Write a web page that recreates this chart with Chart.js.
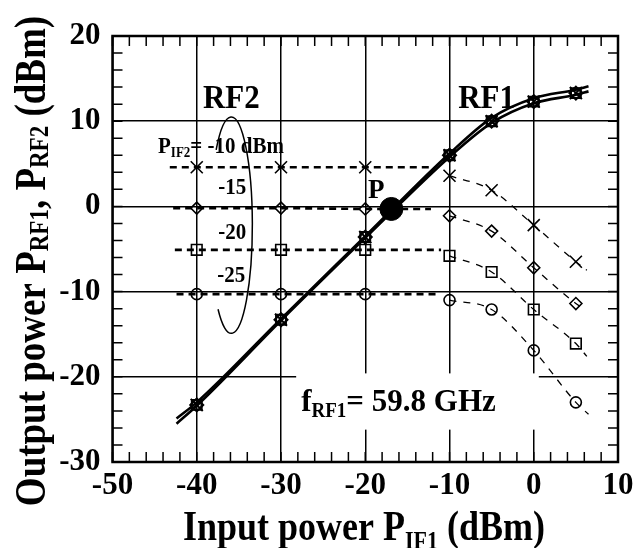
<!DOCTYPE html>
<html>
<head>
<meta charset="utf-8">
<script src="https://cdn.jsdelivr.net/npm/chart.js@4/dist/chart.umd.min.js"></script>
<style>
    body { margin: 0; background: #fff; }
</style>
</head>
<body>
<canvas id="chart" width="639" height="548"></canvas>
<script>
// measured IF1 input powers (dBm)
const inputPower = [-40, -30, -20, -10, -5, 0, 5];

// RF1 output, the two nearly overlapping traces
const rf1LineX = [-42.4, -40, -30, -20, -10, -5, 0, 5, 6.5];
const rf1Upper = [-24.9, -23.0, -13.2, -3.5, 6.2, 10.4, 12.7, 13.7, 14.1];
const rf1Lower = [-25.5, -23.4, -13.4, -3.7, 5.8, 9.8, 12.1, 13.1, 13.5];
const rf1Meas = [-23.3, -13.3, -3.6, 6.0, 10.0, 12.3, 13.3];

// RF2 output for each P_IF2 level
const pif2Levels = ['-10', '-15', '-20', '-25'];
const rf2M10 = [4.6, 4.6, 4.6, 3.6, 1.9, -2.2, -6.5];
const rf2M15 = [-0.2, -0.2, -0.3, -1.1, -2.9, -7.2, -11.4];
const rf2M20 = [-5.1, -5.1, -5.1, -5.8, -7.7, -12.1, -16.1];
const rf2M25 = [-10.3, -10.3, -10.3, -11.0, -12.1, -16.9, -23.0];
const flatStartX = [-43.2, -42.8, -42.6, -42.4];
const flatEndX = [-12.4, -12.2, -11.0, -11.2];
const tailEndX = [6.3, 5.9, 6.3, 6.5];
const tailEndY = [-7.5, -12.0, -17.6, -24.4];

// point P
const pointPx = [-16.9];
const pointPy = [-0.3];

const xTicks = [-50, -40, -30, -20, -10, 0, 10];
const yTicks = [20, 10, 0, -10, -20, -30];

const FONT = '"Liberation Serif", "Times New Roman", serif';
const rf2Series = [rf2M10, rf2M15, rf2M20, rf2M25];
const markerStyles = ['crossRot', 'rectRot', 'rect', 'circle'];
const markerSizes = [8.5, 6, 7.5, 5.5];

const pts = (xs, ys) => xs.map((x, i) => ({ x, y: ys[i] }));

const datasets = [];

// P marker
datasets.push({
    data: pts(pointPx, pointPy),
    pointRadius: 11.5,
    pointBackgroundColor: '#000',
    pointBorderColor: '#000',
    showLine: false,
});

// RF1 lines
[rf1Upper, rf1Lower].forEach((ys) => {
    datasets.push({
        data: pts(rf1LineX, ys),
        showLine: true,
        borderColor: '#000',
        borderWidth: 2.6,
        pointRadius: 0,
        cubicInterpolationMode: 'monotone',
    });
});
// RF1 markers (several symbols stacked)
[['crossRot', 8.5], ['rect', 7], ['rectRot', 6.5], ['circle', 5]].forEach((m) => {
    datasets.push({
        data: pts(inputPower, rf1Meas),
        showLine: false,
        pointStyle: m[0],
        pointRadius: m[1],
        pointBorderColor: '#000',
        pointBackgroundColor: 'rgba(0,0,0,0)',
        pointBorderWidth: 2,
    });
});

// RF2 curves
rf2Series.forEach((ys, k) => {
    // flat part, thick dash
    datasets.push({
        data: [{ x: flatStartX[k], y: ys[0] }].concat(pts(inputPower.slice(0, 3), ys.slice(0, 3)), [{ x: flatEndX[k], y: ys[2] }]),
        showLine: true,
        borderColor: '#000',
        borderWidth: 2.6,
        borderDash: [7, 5],
        pointRadius: 0,
    });
    // roll-off part, thin dash
    datasets.push({
        data: pts(inputPower.slice(3), ys.slice(3)).concat([{ x: tailEndX[k], y: tailEndY[k] }]),
        showLine: true,
        borderColor: '#000',
        borderWidth: 1.3,
        borderDash: [7, 7],
        pointRadius: 0,
        cubicInterpolationMode: 'monotone',
    });
    // markers
    datasets.push({
        label: 'P_IF2 = ' + pif2Levels[k] + ' dBm',
        data: pts(inputPower, ys),
        showLine: false,
        pointStyle: markerStyles[k],
        pointRadius: markerSizes[k],
        pointBorderColor: '#000',
        pointBackgroundColor: 'rgba(0,0,0,0)',
        pointBorderWidth: 1.6,
    });
});

// text with subscripts: parts = [[text, isSub], ...]
function richText(ctx, parts, x, y, size, align, stretch, subDrop) {
    const big = `bold ${size}px ${FONT}`;
    const small = `bold ${Math.round(size * 0.62)}px ${FONT}`;
    let w = 0;
    parts.forEach((p) => { ctx.font = p[1] ? small : big; w += ctx.measureText(p[0]).width; });
    let cx = align === 'center' ? -w / 2 : 0;
    ctx.save();
    ctx.translate(x, y);
    ctx.scale(1, stretch);
    ctx.textAlign = 'left';
    ctx.textBaseline = 'alphabetic';
    ctx.fillStyle = '#000';
    parts.forEach((p) => {
        ctx.font = p[1] ? small : big;
        ctx.fillText(p[0], cx, p[1] ? subDrop / stretch : 0);
        cx += ctx.measureText(p[0]).width;
    });
    ctx.restore();
    return w;
}

const decorPlugin = {
    id: 'decor',
    beforeDatasetsDraw(chart) {
        const { ctx, chartArea: a, scales: { x, y } } = chart;
        ctx.save();
        // white box behind the frequency label
        ctx.fillStyle = '#fff';
        const bx0 = x.getPixelForValue(-28.2);
        const bx1 = x.getPixelForValue(0.6);
        const by0 = y.getPixelForValue(-19.6);
        const by1 = y.getPixelForValue(-26.2);
        ctx.fillRect(bx0, by0, bx1 - bx0, by1 - by0);

        // inward minor ticks every 2 dB
        ctx.strokeStyle = '#000';
        ctx.lineWidth = 1.5;
        ctx.beginPath();
        for (let v = -50; v <= 10; v += 2) {
            const px = x.getPixelForValue(v);
            ctx.moveTo(px, a.bottom); ctx.lineTo(px, a.bottom - 10);
            ctx.moveTo(px, a.top); ctx.lineTo(px, a.top + 10);
        }
        for (let v = -30; v <= 20; v += 2) {
            const py = y.getPixelForValue(v);
            ctx.moveTo(a.left, py); ctx.lineTo(a.left + 10, py);
            ctx.moveTo(a.right, py); ctx.lineTo(a.right - 10, py);
        }
        ctx.stroke();
        // frame
        ctx.lineWidth = 2.5;
        ctx.strokeRect(a.left, a.top, a.right - a.left, a.bottom - a.top);
        ctx.restore();
    },
    afterDatasetsDraw(chart) {
        const { ctx, scales: { x, y } } = chart;
        const X = (v) => x.getPixelForValue(v);
        const Y = (v) => y.getPixelForValue(v);
        ctx.save();

        // ellipse grouping the P_IF2 labels
        ctx.strokeStyle = '#000';
        ctx.lineWidth = 1.5;
        ctx.beginPath();
        const ecx = X(-35.9);
        const ecy = Y(-2.2);
        ctx.ellipse(ecx, ecy, X(-33.4) - ecx, Y(-14.9) - ecy, 0, -136 * Math.PI / 180, 129 * Math.PI / 180, false);
        ctx.stroke();

        richText(ctx, [['RF2', false]], X(-35.9), Y(11.6), 31, 'center', 1.07, 0);
        richText(ctx, [['RF1', false]], X(-5.6), Y(11.6), 31, 'center', 1.07, 0);
        richText(ctx, [['P', false], ['IF2', true], ['= -10 dBm', false]], X(-44.6), Y(6.3), 21, 'left', 1.05, 4);
        richText(ctx, [['-15', false]], X(-35.8), Y(1.4), 21, 'center', 1.05, 0);
        richText(ctx, [['-20', false]], X(-35.8), Y(-3.8), 21, 'center', 1.05, 0);
        richText(ctx, [['-25', false]], X(-35.9), Y(-8.9), 21, 'center', 1.05, 0);
        richText(ctx, [['P', false]], X(-18.7), Y(1.0), 27, 'center', 1.05, 0);
        richText(ctx, [['f', false], ['RF1', true], ['= 59.8 GHz', false]], X(-27.6), Y(-24.0), 31, 'left', 1.05, 6);

        // axis titles
        richText(ctx, [['Input power P', false], ['IF1', true], [' (dBm)', false]], 364, 540, 36, 'center', 1.18, 9);
        ctx.translate(45, 261);
        ctx.rotate(-Math.PI / 2);
        richText(ctx, [['Output power P', false], ['RF1', true], [', P', false], ['RF2', true], [' (dBm)', false]], 0, 0, 37, 'center', 1.2, 3);
        ctx.restore();
    },
};

new Chart(document.getElementById('chart'), {
    type: 'scatter',
    data: { datasets },
    options: {
        responsive: false,
        animation: false,
        layout: { padding: { top: 36, right: 21, left: 0, bottom: 0 } },
        plugins: {
            legend: { display: false },
            tooltip: { enabled: false },
        },
        scales: {
            x: {
                min: -50,
                max: 10,
                afterBuildTicks: (s) => { s.ticks = xTicks.map((v) => ({ value: v })); },
                afterFit: (s) => { s.height = 86; },
                grid: { color: '#000', lineWidth: 1.5, drawTicks: false },
                border: { display: false },
                ticks: {
                    color: '#000',
                    padding: 5,
                    maxRotation: 0,
                    font: { family: FONT, weight: 'bold', size: 31 },
                },
            },
            y: {
                min: -30,
                max: 20,
                afterBuildTicks: (s) => { s.ticks = yTicks.map((v) => ({ value: v })); },
                afterFit: (s) => { s.width = 112.5; },
                grid: { color: '#000', lineWidth: 1.5, drawTicks: false },
                border: { display: false },
                ticks: {
                    color: '#000',
                    padding: 12,
                    font: { family: FONT, weight: 'bold', size: 31 },
                },
            },
        },
    },
    plugins: [decorPlugin],
});
</script>
</body>
</html>
